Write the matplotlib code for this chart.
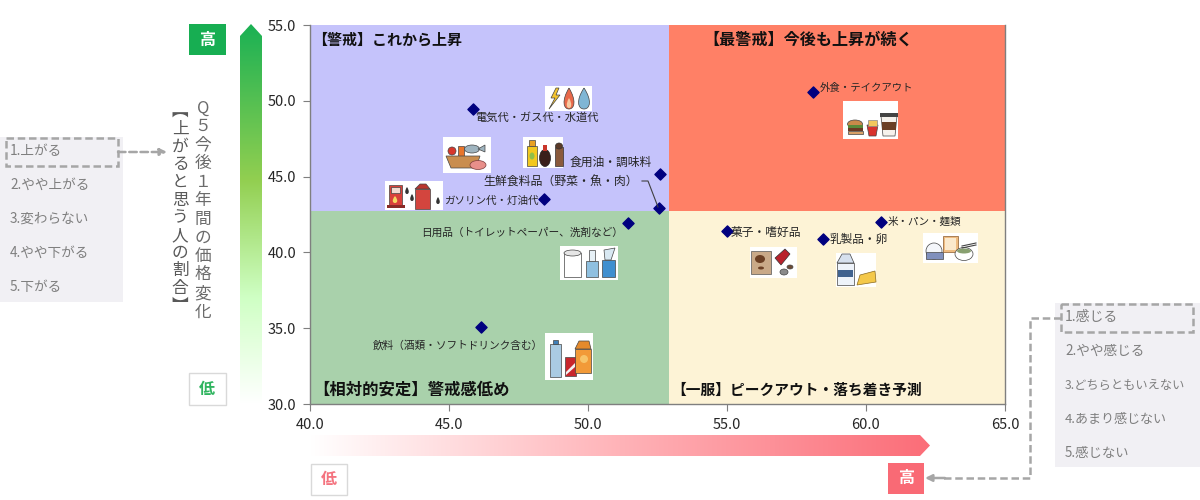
import numpy as np
import matplotlib
matplotlib.use('Agg')
import matplotlib.pyplot as plt
from matplotlib.patches import Rectangle, Circle, Polygon, Ellipse, PathPatch
from matplotlib.path import Path
from matplotlib.colors import LinearSegmentedColormap

plt.rcParams['font.family'] = ['Noto Sans CJK JP', 'DejaVu Sans']

# data
items = ['外食・テイクアウト', '電気代・ガス代・水道代', '食用油・調味料', '生鮮食料品（野菜・魚・肉）',
         'ガソリン代・灯油代', '日用品（トイレットペーパー、洗剤など）', '米・パン・麺類', '菓子・嗜好品',
         '乳製品・卵', '飲料（酒類・ソフトドリンク含む）']
x_vals = [58.1, 45.85, 52.6, 52.55, 48.4, 51.45, 60.55, 55.0, 58.45, 46.15]
y_vals = [50.6, 49.45, 45.2, 42.9, 43.5, 41.95, 42.0, 41.4, 40.9, 35.1]
x_ticks = [40.0, 45.0, 50.0, 55.0, 60.0, 65.0]
y_ticks = [30.0, 35.0, 40.0, 45.0, 50.0, 55.0]
x_split = 52.9
y_split = 42.75
q5_options = ['1.上がる', '2.やや上がる', '3.変わらない', '4.やや下がる', '5.下がる']
feel_options = ['1.感じる', '2.やや感じる', '3.どちらともいえない', '4.あまり感じない', '5.感じない']

fig = plt.figure(figsize=(12, 5), dpi=100)
ax = fig.add_axes([310 / 1200, 96 / 500, 695 / 1200, 379 / 500])
ax.set_xlim(40, 65)
ax.set_ylim(30, 55)

# quadrants
ax.add_patch(Rectangle((40, y_split), x_split - 40, 55 - y_split, color='#c5c3fb', lw=0))
ax.add_patch(Rectangle((x_split, y_split), 65 - x_split, 55 - y_split, color='#ff8066', lw=0))
ax.add_patch(Rectangle((40, 30), x_split - 40, y_split - 30, color='#a9d1ab', lw=0))
ax.add_patch(Rectangle((x_split, 30), 65 - x_split, y_split - 30, color='#fdf3d6', lw=0))

ax.scatter(x_vals, y_vals, marker='D', s=32, color='#00007f', zorder=5)

ax.set_xticks(x_ticks)
ax.set_yticks(y_ticks)
ax.set_xticklabels(['%.1f' % v for v in x_ticks])
ax.set_yticklabels(['%.1f' % v for v in y_ticks])
ax.tick_params(labelsize=10.5, length=5, color='#7f7f7f', labelcolor='#262626', pad=5)
for s in ax.spines.values():
    s.set_color('#7f7f7f')
    s.set_linewidth(1)
ax.spines['top'].set_visible(False)

# overlay in picture pixels for everything around the chart
ov = fig.add_axes([0, 0, 1, 1], zorder=10)
ov.set_xlim(0, 1200)
ov.set_ylim(500, 0)
ov.axis('off')
ov.patch.set_alpha(0)

# point labels, left x / centre y
label_pos = [(820, 88), (475, 118), (570, 162), (483, 182), (444, 201),
             (421, 233), (888, 222), (731, 232), (830, 239), (373, 345)]
label_size = [7.5, 8.1, 8.5, 8.6, 7.6, 7.7, 7.6, 8.5, 8.4, 7.7]
for name, p, fs in zip(items, label_pos, label_size):
    ov.text(p[0], p[1], name, fontsize=fs, color='#262626', va='center', ha='left')
ov.plot([642, 648, 658], [181, 181, 207], color='#404040', lw=0.8)

# quadrant titles
ov.text(312, 40, '【警戒】これから上昇', fontsize=10.8, fontweight='bold', color='#111111', va='center')
ov.text(703, 40, '【最警戒】今後も上昇が続く', fontsize=11.6, fontweight='bold', color='#111111', va='center')
ov.text(313, 390, '【相対的安定】警戒感低め', fontsize=11.8, fontweight='bold', color='#111111', va='center')
ov.text(671, 390, '【一服】ピークアウト・落ち着き予測', fontsize=10.6, fontweight='bold', color='#111111', va='center')


# icons
def rect(x, y, w, h, c, ec='none', lw=0.5):
    ov.add_patch(Rectangle((x, y), w, h, facecolor=c, edgecolor=ec, lw=lw))

def circ(x, y, r, c, ec='none'):
    ov.add_patch(Circle((x, y), r, facecolor=c, edgecolor=ec, lw=0.5))

def ell(x, y, w, h, c, ec='none'):
    ov.add_patch(Ellipse((x, y), w, h, facecolor=c, edgecolor=ec, lw=0.5))

def poly(pts, c, ec='none'):
    ov.add_patch(Polygon(pts, closed=True, facecolor=c, edgecolor=ec, lw=0.5))

def drop(x, y, w, h, c, ec='#444444'):
    ov.add_patch(PathPatch(Path([(x, y), (x + w * 0.7, y + h * 0.6), (x + w * 0.5, y + h), (x, y + h),
                                 (x - w * 0.5, y + h), (x - w * 0.7, y + h * 0.6), (x, y)],
                                [1, 4, 4, 4, 4, 4, 4]),
                           facecolor=c, edgecolor=ec, lw=0.5))

# utilities
rect(545, 86, 47, 25, 'white')
poly([(556, 88), (551, 98), (555, 98), (549, 109), (560, 95), (556, 95), (559, 88)], '#f4c430', '#444444')
drop(569, 88, 11, 21, '#e8694a')
drop(569, 98, 5, 10, '#f7c9a0', 'none')
drop(584, 88, 12, 21, '#7fb6d5')

# fresh food basket
rect(443, 137, 48, 36, 'white')
circ(452, 151, 4, '#d8372c', '#444444')
rect(458, 146, 6, 12, '#e8752b', '#444444')
ell(472, 149, 15, 8, '#9fb4bf', '#444444')
poly([(478, 149), (485, 145), (485, 152)], '#9fb4bf', '#444444')
poly([(446, 156), (480, 156), (476, 168), (451, 168)], '#c98d4e', '#444444')
ell(478, 165, 16, 9, '#e88f8a', '#7a3b3b')

# cooking oil
rect(523, 137, 40, 31, 'white')
rect(527, 146, 10, 20, '#f2c81f', '#444444')
rect(529, 140, 6, 6, '#e8a020', '#444444')
ell(532, 156, 5, 7, '#8fbf4a')
ell(545, 158, 11, 17, '#3a1f1a', '#222222')
rect(543, 145, 4, 6, '#c9362b')
rect(555, 147, 8, 19, '#8a5a3c', '#333333')
ell(559, 146, 7, 6, '#5b3a28', '#333333')

# gasoline
rect(385, 181, 58, 29, 'white')
rect(389, 185, 13, 21, '#d8403a', '#444444')
rect(391, 187, 9, 6, '#f3d9d0', '#444444')
rect(387, 205, 18, 3, '#8a2a26')
drop(395, 196, 5, 7, '#f6d860', 'none')
rect(415, 189, 15, 20, '#d3453e', '#444444')
poly([(415, 189), (420, 184), (426, 184), (430, 189)], '#b8352f', '#444444')
drop(407, 187, 4, 7, '#333333', 'none')
drop(412, 194, 4, 7, '#333333', 'none')
drop(438, 197, 4, 7, '#333333', 'none')

# daily goods
rect(560, 246, 58, 34, 'white')
rect(564, 253, 17, 24, 'white', '#444444')
ell(572.5, 253, 17, 6, '#e6e6e6', '#444444')
rect(586, 261, 12, 16, '#8fc0e0', '#444444')
rect(589, 250, 6, 11, '#e6f0f6', '#444444')
rect(602, 260, 13, 17, '#3f8fcf', '#444444')
poly([(604, 250), (615, 248), (611, 260), (605, 260)], '#d8e8f2', '#444444')

# fast food
rect(843, 101, 55, 38, 'white')
ell(855, 124, 15, 8, '#c98a4a', '#444444')
rect(848, 125, 15, 2.5, '#5a8a3a')
rect(848, 127.5, 15, 3, '#6b3a24')
rect(848, 131, 15, 3, '#d9a066', '#444444')
poly([(867, 125), (878, 125), (876, 136), (869, 136)], '#d8322c', '#444444')
rect(868, 120, 9, 6, '#f2c75c', '#888888')
poly([(881, 116), (897, 116), (895, 136), (883, 136)], '#f6f2ec', '#444444')
rect(882, 122, 14, 8, '#6b3f24')
rect(880, 113, 18, 3.5, '#444444')

# rice, bread, noodles
rect(923, 233, 55, 30, 'white')
ell(934, 251, 16, 16, '#f4f6fa', '#444444')
rect(926, 252, 17, 7, '#8090bd', '#444444')
rect(943, 236, 15, 16, '#eebb80', '#8a5a2c')
rect(945, 238, 11, 12, '#fbe9cc')
ell(964, 254, 18, 13, '#ffffff', '#444444')
ell(964, 251, 14, 5, '#88a070')
ov.plot([962, 976], [246, 243], color='#444444', lw=0.8)
ov.plot([962, 976], [248, 245], color='#444444', lw=0.8)

# snacks
rect(750, 247, 47, 31, 'white')
rect(751, 251, 20, 23, '#c9a988', '#555555')
ell(760, 259, 10, 8, '#6b3f24')
ell(761, 268, 6, 3, '#6b3f24')
poly([(775, 258), (785, 249), (790, 254), (781, 265)], '#b9222c', '#333333')
ell(784, 272, 8, 6, '#8a8a8a', '#444444')
ell(790, 267, 6, 4, '#6b4a34', '#444444')

# milk and cheese
rect(836, 253, 40, 34, 'white')
rect(837, 263, 17, 22, '#eef3fa', '#444444')
poly([(837, 263), (842, 254), (850, 254), (854, 263)], '#d6e0ee', '#444444')
rect(838, 270, 15, 7, '#40628f')
poly([(857, 285), (876, 282), (875, 271), (860, 275)], '#f4c84a', '#8a6a20')

# drinks
rect(545, 333, 48, 47, 'white')
rect(550, 344, 11, 33, '#aacbe3', '#444444')
rect(553, 340, 5, 4, '#3f7fb8', '#444444')
rect(565, 357, 11, 19, '#c8262c', '#444444')
poly([(566, 372), (575, 363), (575, 367), (566, 375)], '#f2f2f2')
rect(575, 349, 16, 24, '#f29a38', '#444444')
poly([(575, 349), (579, 341), (589, 341), (591, 349)], '#e58a2c', '#444444')
circ(584, 359, 4, '#f7c469')

# green arrow on the y side
green_cm = LinearSegmentedColormap.from_list('g', [(0, '#1ab154'), (0.41, '#92cf50'), (0.72, '#cfffc4'), (1, '#ffffff')])
im = ov.imshow(np.linspace(0, 1, 256)[:, None], cmap=green_cm, extent=(240, 262, 404, 24), aspect='auto', zorder=1)
clip = Polygon([(240, 36), (251, 24), (262, 36), (262, 404), (240, 404)], closed=True, transform=ov.transData, fc='none', ec='none')
ov.add_patch(clip)
im.set_clip_path(clip)

# red arrow on the x side
red_cm = LinearSegmentedColormap.from_list('r', ['#ffffff', '#ffb3b8', '#fb6d78'])
im2 = ov.imshow(np.linspace(0, 1, 256)[None, :], cmap=red_cm, extent=(310, 930, 456, 435), aspect='auto', zorder=1)
clip2 = Polygon([(310, 435), (920, 435), (930, 445.5), (920, 456), (310, 456)], closed=True, transform=ov.transData, fc='none', ec='none')
ov.add_patch(clip2)
im2.set_clip_path(clip2)
ov.set_xlim(0, 1200)
ov.set_ylim(500, 0)

# high / low badges
rect(189, 24, 37, 31, '#17ae52')
ov.text(207, 40, '高', fontsize=11.5, fontweight='bold', color='white', ha='center', va='center')
rect(189, 373, 37, 32, 'white', '#d9d9d9', 1)
ov.text(207, 389, '低', fontsize=11.5, fontweight='bold', color='#2fb45f', ha='center', va='center')
rect(311, 464, 36, 31, 'white', '#d9d9d9', 1)
ov.text(329, 479, '低', fontsize=11.5, fontweight='bold', color='#f4737f', ha='center', va='center')
rect(888, 463, 36, 31, '#f96a75')
ov.text(906, 478, '高', fontsize=11.5, fontweight='bold', color='white', ha='center', va='center')

# vertical axis title, two columns
ov.text(203, 210, '\n'.join('Q５今後１年間の価格変化'), fontsize=12, color='#6b6b6b', ha='center', va='center',
        linespacing=1.12, multialignment='center')
ov.text(180, 209, '\n'.join('︻上がると思う人の割合︼'), fontsize=12, color='#595959', ha='center', va='center',
        linespacing=1.05, multialignment='center')

# survey option panels
rect(0, 137, 123, 165, '#f1f0f4')
for i, t in enumerate(q5_options):
    ov.text(10, 151 + i * 34, t, fontsize=9.8, color='#7f7f7f', va='center')
rect(6, 138, 112, 28, 'none', '#a6a6a6', 1.8)
ov.patches[-1].set_linestyle((0, (3, 1.5)))
ov.annotate('', xy=(167, 152), xytext=(118, 152),
            arrowprops=dict(arrowstyle='-|>', color='#a6a6a6', lw=1.8, ls=(0, (3, 1.5)), shrinkA=0, shrinkB=0))

rect(1055, 303, 145, 164, '#f1f0f4')
feel_size = [10, 9.8, 8.8, 9.4, 9.6]
for i, t in enumerate(feel_options):
    ov.text(1065, 317 + i * 34, t, fontsize=feel_size[i], color='#7f7f7f', va='center')
rect(1061, 304, 132, 28, 'none', '#a6a6a6', 1.8)
ov.patches[-1].set_linestyle((0, (3, 1.5)))
ov.plot([1061, 1030, 1030, 940], [318, 318, 478, 478], color='#a6a6a6', lw=1.8, ls=(0, (3, 1.5)))
ov.annotate('', xy=(925, 478), xytext=(945, 478),
            arrowprops=dict(arrowstyle='-|>', color='#a6a6a6', lw=1.8, shrinkA=0, shrinkB=0))

fig.savefig('out.png', dpi=100)
